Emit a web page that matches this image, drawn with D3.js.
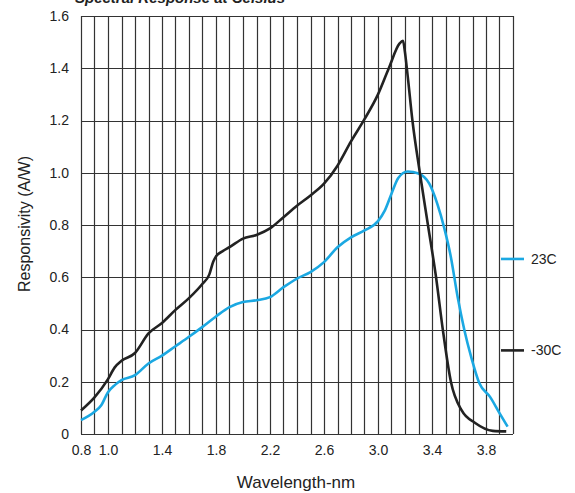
<!DOCTYPE html>
<html>
<head>
<meta charset="utf-8">
<script src="https://cdn.jsdelivr.net/npm/d3@7"></script>
<style>
  body { margin: 0; background: #fff; }
  text { font-family: "Liberation Sans", Arial, sans-serif; fill: #222; }
</style>
</head>
<body>
<div id="chart-area"></div>
<script>
// data
const wl30 = [0.80, 0.90, 1.00, 1.05, 1.10, 1.20, 1.30, 1.40, 1.50, 1.60, 1.70, 1.75, 1.78, 1.80, 1.85, 1.90,
    2.00, 2.10, 2.20, 2.30, 2.40, 2.50, 2.60, 2.70, 2.80, 2.90, 3.00, 3.08, 3.16, 3.185, 3.20, 3.22,
    3.255, 3.31, 3.37, 3.43, 3.48, 3.54, 3.62, 3.72, 3.85, 3.95];
const resp30 = [0.09, 0.14, 0.21, 0.255, 0.28, 0.31, 0.385, 0.425, 0.475, 0.52, 0.575, 0.61, 0.66, 0.68, 0.70, 0.715,
    0.748, 0.762, 0.787, 0.83, 0.874, 0.913, 0.958, 1.027, 1.12, 1.205, 1.30, 1.40, 1.495, 1.505, 1.46, 1.37,
    1.20, 1.00, 0.80, 0.60, 0.40, 0.20, 0.09, 0.042, 0.012, 0.01];

const wl23 = [0.80, 0.90, 0.95, 1.00, 1.05, 1.10, 1.20, 1.30, 1.40, 1.50, 1.60, 1.70, 1.80, 1.90, 2.00, 2.10,
    2.20, 2.30, 2.40, 2.50, 2.60, 2.70, 2.80, 2.90, 3.00, 3.05, 3.10, 3.15, 3.22, 3.30, 3.38, 3.44,
    3.49, 3.54, 3.59, 3.64, 3.69, 3.75, 3.83, 3.90, 3.96];
const resp23 = [0.053, 0.085, 0.11, 0.16, 0.187, 0.206, 0.225, 0.27, 0.30, 0.336, 0.372, 0.41, 0.45, 0.486, 0.505, 0.512,
    0.524, 0.562, 0.595, 0.62, 0.658, 0.715, 0.753, 0.779, 0.815, 0.855, 0.92, 0.98, 1.005, 0.997, 0.958, 0.88,
    0.79, 0.677, 0.524, 0.397, 0.295, 0.195, 0.142, 0.08, 0.028];

const xTicks = [0.8, 1.0, 1.4, 1.8, 2.2, 2.6, 3.0, 3.4, 3.8];
const yTicks = [0, 0.2, 0.4, 0.6, 0.8, 1.0, 1.2, 1.4, 1.6];
const seriesNames = ['23C', '-30C'];
const colors = ['#1ba8e2', '#222222'];

// margins
const margin = { left: 81, right: 62, top: 16, bottom: 59 };
const width = 575 - margin.left - margin.right;
const height = 493 - margin.top - margin.bottom;

const svg = d3.select('#chart-area')
    .append('svg')
        .attr('width', 575)
        .attr('height', 493);

// title, cut off at the top of the picture
svg.append('text')
    .attr('x', 75)
    .attr('y', 3)
    .attr('font-size', '15px')
    .attr('font-weight', 'bold')
    .attr('font-style', 'italic')
    .text('Spectral Response at Celsius');

const g = svg.append('g')
    .attr('transform', `translate(${margin.left}, ${margin.top})`);

const x = d3.scaleLinear()
    .domain([0.8, 4.0])
    .range([0, width]);

const y = d3.scaleLinear()
    .domain([0, 1.6])
    .range([height, 0]);

// grid
g.append('g')
    .attr('class', 'grid x')
    .selectAll('line')
    .data(d3.range(8, 41).map(i => i / 10))
    .enter()
        .append('line')
            .attr('x1', d => Math.round(x(d)) + 0.5)
            .attr('x2', d => Math.round(x(d)) + 0.5)
            .attr('y1', 0)
            .attr('y2', height)
            .attr('stroke', '#333')
            .attr('stroke-width', 1.2);

g.append('g')
    .attr('class', 'grid y')
    .selectAll('line')
    .data(yTicks)
    .enter()
        .append('line')
            .attr('x1', 0)
            .attr('x2', width)
            .attr('y1', d => Math.round(y(d)) + 0.5)
            .attr('y2', d => Math.round(y(d)) + 0.5)
            .attr('stroke', '#333')
            .attr('stroke-width', 1.2);

// axes
const xAxisCall = d3.axisBottom(x)
    .tickValues(xTicks)
    .tickSize(0)
    .tickPadding(11)
    .tickFormat(d => d.toFixed(1));
g.append('g')
    .attr('class', 'x axis')
    .attr('transform', `translate(0, ${height})`)
    .call(xAxisCall)
    .call(a => a.select('.domain').remove())
    .selectAll('text')
        .attr('font-size', '14px')
        .attr('font-family', '"Liberation Sans", Arial, sans-serif');

const yAxisCall = d3.axisLeft(y)
    .tickValues(yTicks)
    .tickSize(0)
    .tickPadding(12)
    .tickFormat(d => d === 0 ? '0' : d.toFixed(1));
g.append('g')
    .attr('class', 'y axis')
    .call(yAxisCall)
    .call(a => a.select('.domain').remove())
    .selectAll('text')
        .attr('font-size', '14px')
        .attr('font-family', '"Liberation Sans", Arial, sans-serif');

// curves
const line = d3.line()
    .x(d => x(d[0]))
    .y(d => y(d[1]))
    .curve(d3.curveMonotoneX);

const series = [d3.zip(wl23, resp23), d3.zip(wl30, resp30)];

g.selectAll('path.curve')
    .data(series)
    .enter()
        .append('path')
            .attr('class', 'curve')
            .attr('d', line)
            .attr('fill', 'none')
            .attr('stroke', (d, i) => colors[i])
            .attr('stroke-width', 2.6)
            .attr('stroke-linejoin', 'round');

// legend
const legendY = [0.67, 0.32];
const legend = g.selectAll('g.legend')
    .data(seriesNames)
    .enter()
        .append('g')
            .attr('class', 'legend')
            .attr('transform', (d, i) => `translate(${width - 12}, ${y(legendY[i])})`);

legend.append('line')
    .attr('x1', 0)
    .attr('x2', 23)
    .attr('stroke', (d, i) => colors[i])
    .attr('stroke-width', 2.6);

legend.append('text')
    .attr('x', 30)
    .attr('dy', '0.36em')
    .attr('font-size', '14px')
    .text(d => d);

// labels
svg.append('text')
    .attr('x', 296)
    .attr('y', 488)
    .attr('font-size', '17px')
    .attr('text-anchor', 'middle')
    .text('Wavelength-nm');

svg.append('text')
    .attr('x', -224)
    .attr('y', 30)
    .attr('font-size', '16px')
    .attr('text-anchor', 'middle')
    .attr('transform', 'rotate(-90)')
    .text('Responsivity  (A/W)');
</script>
</body>
</html>
